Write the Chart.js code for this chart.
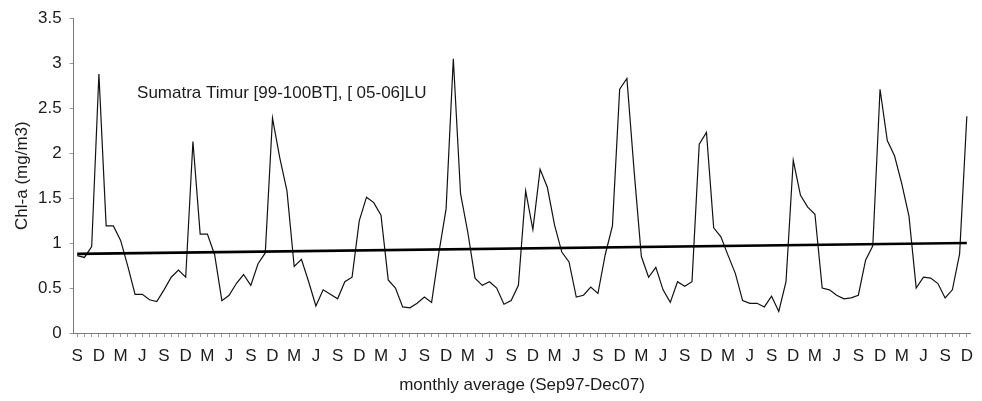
<!DOCTYPE html>
<html>
<head>
<meta charset="utf-8">
<script src="https://cdn.jsdelivr.net/npm/chart.js@4/dist/chart.umd.min.js"></script>
<style>
  html, body { margin: 0; padding: 0; background: #ffffff; }
  #wrap { width: 982px; height: 401px; position: relative; }
</style>
</head>
<body>
<div id="wrap"><canvas id="c" width="982" height="401"></canvas></div>
<script>
// ---- data ----
const monthAbbr = ['Jan','Feb','Mar','Apr','May','Jun','Jul','Aug','Sep','Oct','Nov','Dec'];
const startYear = 1997, startMonth = 8, nMonths = 124; // Sep97 .. Dec07
const categories = [];
for (let k = 0; k < nMonths; k++) {
  const m = (startMonth + k) % 12;
  const y = startYear + Math.floor((startMonth + k) / 12);
  categories.push(monthAbbr[m] + String(y).slice(2));
}

// Monthly average Chl-a (mg/m3)
const chlA = [
  0.86, 0.84, 0.96, 2.88, 1.19, 1.19, 1.03, 0.74, 0.43, 0.43, 0.37, 0.35,
  0.48, 0.62, 0.70, 0.62, 2.13, 1.10, 1.10, 0.87, 0.36, 0.42, 0.55, 0.65,
  0.53, 0.77, 0.89, 2.39, 1.95, 1.58, 0.74, 0.82, 0.57, 0.30, 0.48, 0.43,
  0.38, 0.57, 0.62, 1.25, 1.51, 1.45, 1.31, 0.59, 0.50, 0.29, 0.28, 0.33,
  0.40, 0.34, 0.89, 1.38, 3.05, 1.55, 1.12, 0.61, 0.53, 0.57, 0.50, 0.32,
  0.36, 0.53, 1.58, 1.15, 1.82, 1.62, 1.20, 0.90, 0.79, 0.40, 0.42, 0.51,
  0.44, 0.87, 1.19, 2.71, 2.83, 1.80, 0.85, 0.62, 0.73, 0.48, 0.34, 0.57,
  0.52, 0.57, 2.10, 2.23, 1.17, 1.07, 0.86, 0.66, 0.36, 0.33, 0.33, 0.29,
  0.41, 0.24, 0.57, 1.92, 1.53, 1.40, 1.32, 0.50, 0.48, 0.42, 0.38, 0.39,
  0.42, 0.81, 0.97, 2.71, 2.14, 1.97, 1.66, 1.30, 0.50, 0.62, 0.61, 0.55,
  0.39, 0.48, 0.88, 2.41
];

// Linear trend line: values at its two ends
const trendStart = 0.88;
const trendEnd = 1.00;
const trend = categories.map((_, i) => i === 0 ? trendStart : (i === categories.length - 1 ? trendEnd : null));

const annotationText = 'Sumatra Timur [99-100BT], [ 05-06]LU';
const yTitle = 'Chl-a (mg/m3)';
const xTitle = 'monthly average (Sep97-Dec07)';
const yMin = 0, yMax = 3.5, yStep = 0.5;

// ---- chart ----
const FONT = "'Liberation Sans', Arial, sans-serif";
const textColor = '#1c1c1c';

const annotationPlugin = {
  id: 'innerText',
  afterDatasetsDraw(chart) {
    const ctx = chart.ctx;
    const xs = chart.scales.x, ys = chart.scales.y;
    ctx.save();
    ctx.font = '17px ' + FONT;
    ctx.fillStyle = textColor;
    ctx.textAlign = 'left';
    ctx.textBaseline = 'middle';
    const x = xs.getPixelForValue(8) + 2;
    const y = ys.getPixelForValue(2.67);
    ctx.fillText(annotationText, x, y);
    ctx.restore();
  }
};

new Chart(document.getElementById('c'), {
  type: 'line',
  data: {
    labels: categories,
    datasets: [
      {
        data: chlA,
        borderColor: '#111111',
        borderWidth: 1.2,
        pointRadius: 0,
        tension: 0,
        fill: false,
        order: 2
      },
      {
        data: trend,
        borderColor: '#000000',
        borderWidth: 2.6,
        pointRadius: 0,
        spanGaps: true,
        tension: 0,
        fill: false,
        order: 1
      }
    ]
  },
  options: {
    responsive: false,
    animation: false,
    devicePixelRatio: 1,
    layout: { padding: { left: 0, right: 6, top: 17, bottom: 0 } },
    plugins: {
      legend: { display: false },
      tooltip: { enabled: false },
      title: { display: false }
    },
    scales: {
      x: {
        type: 'category',
        offset: true,
        afterFit(s) { s.height = 68; },
        grid: { display: true, drawOnChartArea: false, drawTicks: true, tickLength: 4, color: '#9a9a9a' },
        border: { display: true, color: '#7a7a7a', width: 1 },
        ticks: {
          autoSkip: false,
          maxRotation: 0,
          minRotation: 0,
          padding: 9,
          color: textColor,
          font: { family: FONT, size: 17 },
          callback(value, index) { return index % 3 === 0 ? categories[index].charAt(0) : ''; }
        },
        title: {
          display: true,
          text: xTitle,
          color: textColor,
          font: { family: FONT, size: 17 },
          padding: { top: 0, bottom: 5 }
        }
      },
      y: {
        min: yMin,
        max: yMax,
        afterFit(s) { s.width = 73.6; },
        grid: { display: true, drawOnChartArea: false, drawTicks: true, tickLength: 4, color: '#9a9a9a' },
        border: { display: true, color: '#7a7a7a', width: 1 },
        ticks: {
          stepSize: yStep,
          padding: 8,
          color: textColor,
          font: { family: FONT, size: 17 },
          callback(value) { return String(Math.round(value * 10) / 10); }
        },
        title: {
          display: true,
          text: yTitle,
          color: textColor,
          font: { family: FONT, size: 17 },
          padding: { top: 12, bottom: 0 }
        }
      }
    }
  },
  plugins: [annotationPlugin]
});
</script>
</body>
</html>
